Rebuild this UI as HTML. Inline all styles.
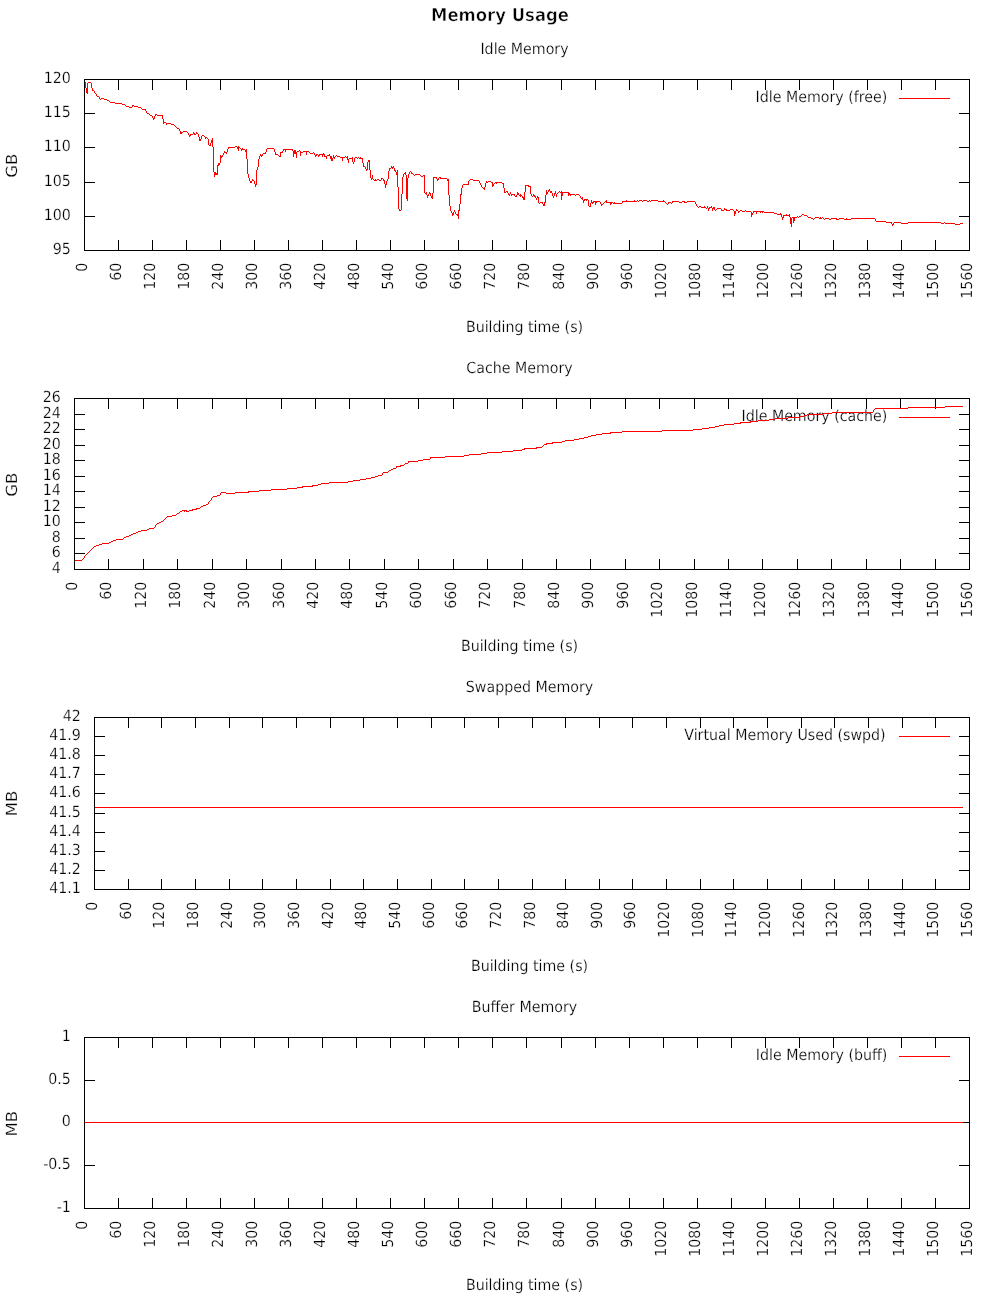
<!DOCTYPE html>
<html><head><meta charset="utf-8"><title>Memory Usage</title>
<style>
html,body{margin:0;padding:0;background:#fff;}
svg{display:block}
text{font-family:"DejaVu Sans", "Liberation Sans", sans-serif;font-size:14.22px;fill:#000;stroke:#fff;stroke-width:.22px}
.b{stroke:#000;stroke-width:1;fill:none;shape-rendering:crispEdges}
.r{stroke:#f00;stroke-width:1;fill:none;shape-rendering:crispEdges;stroke-linejoin:miter}
.t{font-weight:bold;font-size:16.5px;stroke-width:.55px}
</style></head><body>
<svg width="1000" height="1300" viewBox="0 0 1000 1300">
<rect width="1000" height="1300" fill="#fff"/>

<text class="t" transform="translate(500,21) skewX(.05) scale(1,1.078)" text-anchor="middle">Memory Usage</text>
<g>
<text transform="translate(524.5,53.5) skewX(.05) scale(1,1.078)" text-anchor="middle">Idle Memory</text>
<path class="b" d="M84 113.5H95M970 113.5H959M84 147.5H95M970 147.5H959M84 182.5H95M970 182.5H959M84 216.5H95M970 216.5H959M118.5 251V240M118.5 79V90M152.5 251V240M152.5 79V90M186.5 251V240M186.5 79V90M220.5 251V240M220.5 79V90M254.5 251V240M254.5 79V90M288.5 251V240M288.5 79V90M322.5 251V240M322.5 79V90M356.5 251V240M356.5 79V90M390.5 251V240M390.5 79V90M424.5 251V240M424.5 79V90M458.5 251V240M458.5 79V90M492.5 251V240M492.5 79V90M526.5 251V240M526.5 79V90M561.5 251V240M561.5 79V90M595.5 251V240M595.5 79V90M629.5 251V240M629.5 79V90M663.5 251V240M663.5 79V90M697.5 251V240M697.5 79V90M731.5 251V240M731.5 79V90M765.5 251V240M765.5 79V90M799.5 251V240M799.5 79V90M833.5 251V240M833.5 79V90M867.5 251V240M867.5 79V90M901.5 251V240M901.5 79V90M935.5 251V240M935.5 79V90"/>
<text transform="translate(70.9,83.1) skewX(.05) scale(1,1.078)" text-anchor="end">120</text>
<text transform="translate(70.9,117.1) skewX(.05) scale(1,1.078)" text-anchor="end">115</text>
<text transform="translate(70.9,151.1) skewX(.05) scale(1,1.078)" text-anchor="end">110</text>
<text transform="translate(70.9,186.1) skewX(.05) scale(1,1.078)" text-anchor="end">105</text>
<text transform="translate(70.9,220.1) skewX(.05) scale(1,1.078)" text-anchor="end">100</text>
<text transform="translate(70.9,254.1) skewX(.05) scale(1,1.078)" text-anchor="end">95</text>
<text transform="translate(87.3,262.6) rotate(-90) skewX(.05) scale(1,1.078)" text-anchor="end">0</text>
<text transform="translate(121.3,262.6) rotate(-90) skewX(.05) scale(1,1.078)" text-anchor="end">60</text>
<text transform="translate(155.3,262.6) rotate(-90) skewX(.05) scale(1,1.078)" text-anchor="end">120</text>
<text transform="translate(189.3,262.6) rotate(-90) skewX(.05) scale(1,1.078)" text-anchor="end">180</text>
<text transform="translate(223.3,262.6) rotate(-90) skewX(.05) scale(1,1.078)" text-anchor="end">240</text>
<text transform="translate(257.3,262.6) rotate(-90) skewX(.05) scale(1,1.078)" text-anchor="end">300</text>
<text transform="translate(291.3,262.6) rotate(-90) skewX(.05) scale(1,1.078)" text-anchor="end">360</text>
<text transform="translate(325.3,262.6) rotate(-90) skewX(.05) scale(1,1.078)" text-anchor="end">420</text>
<text transform="translate(359.3,262.6) rotate(-90) skewX(.05) scale(1,1.078)" text-anchor="end">480</text>
<text transform="translate(393.3,262.6) rotate(-90) skewX(.05) scale(1,1.078)" text-anchor="end">540</text>
<text transform="translate(427.3,262.6) rotate(-90) skewX(.05) scale(1,1.078)" text-anchor="end">600</text>
<text transform="translate(461.3,262.6) rotate(-90) skewX(.05) scale(1,1.078)" text-anchor="end">660</text>
<text transform="translate(495.3,262.6) rotate(-90) skewX(.05) scale(1,1.078)" text-anchor="end">720</text>
<text transform="translate(529.3,262.6) rotate(-90) skewX(.05) scale(1,1.078)" text-anchor="end">780</text>
<text transform="translate(564.3,262.6) rotate(-90) skewX(.05) scale(1,1.078)" text-anchor="end">840</text>
<text transform="translate(598.3,262.6) rotate(-90) skewX(.05) scale(1,1.078)" text-anchor="end">900</text>
<text transform="translate(632.3,262.6) rotate(-90) skewX(.05) scale(1,1.078)" text-anchor="end">960</text>
<text transform="translate(666.3,262.6) rotate(-90) skewX(.05) scale(1,1.078)" text-anchor="end">1020</text>
<text transform="translate(700.3,262.6) rotate(-90) skewX(.05) scale(1,1.078)" text-anchor="end">1080</text>
<text transform="translate(734.3,262.6) rotate(-90) skewX(.05) scale(1,1.078)" text-anchor="end">1140</text>
<text transform="translate(768.3,262.6) rotate(-90) skewX(.05) scale(1,1.078)" text-anchor="end">1200</text>
<text transform="translate(802.3,262.6) rotate(-90) skewX(.05) scale(1,1.078)" text-anchor="end">1260</text>
<text transform="translate(836.3,262.6) rotate(-90) skewX(.05) scale(1,1.078)" text-anchor="end">1320</text>
<text transform="translate(870.3,262.6) rotate(-90) skewX(.05) scale(1,1.078)" text-anchor="end">1380</text>
<text transform="translate(904.3,262.6) rotate(-90) skewX(.05) scale(1,1.078)" text-anchor="end">1440</text>
<text transform="translate(938.3,262.6) rotate(-90) skewX(.05) scale(1,1.078)" text-anchor="end">1500</text>
<text transform="translate(972.3,262.6) rotate(-90) skewX(.05) scale(1,1.078)" text-anchor="end">1560</text>
<text transform="translate(17.2,165.7) rotate(-90) skewX(.05) scale(1.16,1.078)" text-anchor="middle">GB</text>
<text transform="translate(524.5,331.7) skewX(.05) scale(1,1.078)" text-anchor="middle">Building time (s)</text>
<text transform="translate(887.3,101.7) skewX(.05) scale(1,1.078)" text-anchor="end">Idle Memory (free)</text>
<path class="r" d="M899 98.5H950"/>
<path fill="#f00" d="M88 82h3v1h-3zM101 98h3v1h-3zM104 99h3v1h-3zM110 102h5v1h-5zM115 103h7v1h-7zM122 104h3v1h-3zM126 106h3v1h-3zM134 106h4v1h-4zM129 107h3v1h-3zM138 107h3v1h-3zM142 109h4v1h-4zM157 115h6v1h-6zM163 122h3v1h-3zM166 123h5v1h-5zM171 124h3v1h-3zM183 131h4v1h-4zM180 132h3v1h-3zM190 134h3v1h-3zM228 147h7v1h-7zM237 147h3v1h-3zM267 148h7v1h-7zM241 149h4v1h-4zM283 149h10v1h-10zM293 151h3v1h-3zM303 151h6v1h-6zM224 152h3v1h-3zM280 152h3v1h-3zM293 152h4v1h-4zM300 152h3v1h-3zM263 153h3v1h-3zM293 153h4v1h-4zM310 153h3v1h-3zM275 154h3v1h-3zM319 154h6v1h-6zM260 155h3v1h-3zM327 155h3v1h-3zM220 156h3v1h-3zM324 156h3v1h-3zM337 156h3v1h-3zM340 157h5v1h-5zM330 158h3v1h-3zM349 158h4v1h-4zM359 158h4v1h-4zM391 167h3v1h-3zM214 173h4v1h-4zM214 174h4v1h-4zM415 174h5v1h-5zM433 177h4v1h-4zM440 178h7v1h-7zM470 179h3v1h-3zM374 180h3v1h-3zM473 180h6v1h-6zM488 181h3v1h-3zM495 182h7v1h-7zM463 184h6v1h-6zM525 185h4v1h-4zM528 186h3v1h-3zM560 192h9v1h-9zM511 194h4v1h-4zM568 194h7v1h-7zM576 194h3v1h-3zM519 195h3v1h-3zM522 197h3v1h-3zM584 199h4v1h-4zM639 200h3v1h-3zM643 200h4v1h-4zM651 200h7v1h-7zM593 201h7v1h-7zM622 201h15v1h-15zM658 201h7v1h-7zM672 201h7v1h-7zM682 201h3v1h-3zM687 201h8v1h-8zM540 202h3v1h-3zM591 202h3v1h-3zM606 202h7v1h-7zM668 202h3v1h-3zM679 202h3v1h-3zM684 202h3v1h-3zM613 203h9v1h-9zM701 207h5v1h-5zM709 207h3v1h-3zM712 208h3v1h-3zM717 208h4v1h-4zM724 209h3v1h-3zM730 209h3v1h-3zM721 210h3v1h-3zM726 210h4v1h-4zM742 211h3v1h-3zM746 211h5v1h-5zM753 211h11v1h-11zM764 212h10v1h-10zM774 213h3v1h-3zM456 214h3v1h-3zM777 214h5v1h-5zM783 215h7v1h-7zM804 215h3v1h-3zM792 217h5v1h-5zM808 217h3v1h-3zM815 217h4v1h-4zM819 218h3v1h-3zM825 218h4v1h-4zM831 218h6v1h-6zM839 218h5v1h-5zM851 218h24v1h-24zM836 219h3v1h-3zM844 219h7v1h-7zM876 221h10v1h-10zM886 222h6v1h-6zM894 222h7v1h-7zM908 222h33v1h-33zM901 223h7v1h-7zM941 223h3v1h-3zM945 223h10v1h-10zM960 223h3v1h-3zM955 224h5v1h-5zM85 82h1v6h-1zM86 88h1v5h-1zM87 83h1v11h-1zM91 83h1v5h-1zM92 88h1v3h-1zM93 90h1v1h-1zM94 91h1v2h-1zM95 93h1v1h-1zM96 94h1v2h-1zM97 96h1v1h-1zM98 96h1v1h-1zM99 97h1v2h-1zM100 99h1v1h-1zM107 100h1v1h-1zM108 100h1v1h-1zM109 101h1v1h-1zM125 105h1v1h-1zM132 105h1v2h-1zM133 105h1v1h-1zM141 108h1v1h-1zM145 110h1v1h-1zM146 111h1v2h-1zM147 113h1v1h-1zM148 113h1v1h-1zM149 114h1v1h-1zM150 115h1v1h-1zM151 115h1v1h-1zM152 116h1v2h-1zM153 118h1v2h-1zM154 116h1v3h-1zM155 114h1v2h-1zM156 114h1v1h-1zM162 116h1v3h-1zM163 119h1v3h-1zM163 123h1v1h-1zM166 124h1v1h-1zM174 125h1v1h-1zM175 126h1v1h-1zM176 127h1v1h-1zM177 128h1v1h-1zM178 128h1v1h-1zM179 129h1v2h-1zM180 131h1v1h-1zM180 133h1v1h-1zM181 133h1v1h-1zM187 132h1v1h-1zM188 133h1v2h-1zM189 135h1v2h-1zM190 135h1v1h-1zM193 132h1v2h-1zM194 133h1v2h-1zM195 134h1v1h-1zM196 132h1v2h-1zM197 133h1v1h-1zM198 134h1v3h-1zM199 137h1v4h-1zM200 139h1v2h-1zM201 136h1v3h-1zM202 135h1v1h-1zM203 135h1v1h-1zM204 136h1v1h-1zM205 137h1v2h-1zM206 137h1v1h-1zM207 138h1v1h-1zM208 139h1v6h-1zM209 145h1v1h-1zM210 143h1v3h-1zM211 140h1v3h-1zM212 138h1v9h-1zM213 147h1v25h-1zM214 172h1v1h-1zM214 175h1v2h-1zM215 172h1v1h-1zM217 165h1v8h-1zM218 163h1v3h-1zM219 163h1v2h-1zM220 155h1v1h-1zM220 157h1v6h-1zM221 157h1v1h-1zM222 155h1v1h-1zM223 153h1v2h-1zM224 151h1v1h-1zM226 153h1v1h-1zM227 149h1v3h-1zM228 148h1v1h-1zM235 146h1v1h-1zM236 146h1v1h-1zM237 148h1v1h-1zM238 146h1v1h-1zM238 148h1v3h-1zM240 148h1v1h-1zM241 150h1v1h-1zM242 148h1v1h-1zM245 150h1v2h-1zM246 149h1v10h-1zM247 159h1v15h-1zM248 174h1v4h-1zM249 178h1v3h-1zM250 181h1v2h-1zM251 181h1v2h-1zM252 179h1v2h-1zM253 180h1v1h-1zM254 181h1v3h-1zM255 184h1v3h-1zM256 170h1v15h-1zM257 167h1v3h-1zM258 159h1v8h-1zM259 156h1v3h-1zM260 154h1v1h-1zM261 156h1v1h-1zM262 154h1v1h-1zM265 152h1v1h-1zM266 149h1v3h-1zM274 149h1v3h-1zM275 152h1v2h-1zM278 155h1v1h-1zM279 156h1v1h-1zM280 153h1v4h-1zM282 151h1v1h-1zM283 150h1v1h-1zM285 150h1v2h-1zM292 150h1v1h-1zM293 154h1v3h-1zM294 150h1v1h-1zM295 150h1v1h-1zM296 154h1v4h-1zM297 151h1v1h-1zM298 151h1v1h-1zM299 150h1v1h-1zM300 151h1v1h-1zM300 153h1v3h-1zM306 152h1v3h-1zM309 152h1v1h-1zM313 152h1v1h-1zM314 153h1v2h-1zM315 155h1v2h-1zM316 154h1v2h-1zM317 154h1v1h-1zM318 155h1v2h-1zM319 155h1v1h-1zM322 155h1v2h-1zM323 153h1v1h-1zM324 155h1v1h-1zM326 157h1v2h-1zM329 154h1v1h-1zM330 156h1v2h-1zM331 156h1v2h-1zM331 159h1v2h-1zM332 159h1v2h-1zM333 155h1v3h-1zM334 157h1v2h-1zM335 156h1v1h-1zM336 155h1v1h-1zM342 158h1v3h-1zM345 156h1v1h-1zM346 157h1v1h-1zM347 156h1v4h-1zM348 159h1v4h-1zM352 157h1v1h-1zM352 159h1v3h-1zM353 162h1v2h-1zM354 158h1v4h-1zM355 157h1v1h-1zM356 157h1v1h-1zM357 158h1v1h-1zM358 157h1v1h-1zM360 157h1v1h-1zM362 159h1v4h-1zM363 163h1v4h-1zM364 166h1v1h-1zM365 167h1v2h-1zM366 169h1v2h-1zM367 162h1v8h-1zM368 160h1v2h-1zM369 160h1v10h-1zM370 170h1v8h-1zM371 178h1v2h-1zM372 175h1v4h-1zM373 179h1v1h-1zM375 179h1v1h-1zM377 179h1v1h-1zM378 179h1v1h-1zM379 180h1v1h-1zM380 180h1v1h-1zM381 178h1v2h-1zM382 178h1v1h-1zM383 179h1v2h-1zM384 180h1v4h-1zM385 184h1v4h-1zM386 181h1v4h-1zM387 179h1v2h-1zM388 171h1v8h-1zM389 168h1v3h-1zM390 168h1v1h-1zM391 166h1v1h-1zM392 168h1v1h-1zM393 166h1v1h-1zM394 168h1v3h-1zM395 170h1v2h-1zM396 172h1v3h-1zM397 170h1v17h-1zM398 187h1v22h-1zM399 209h1v2h-1zM400 210h1v1h-1zM401 194h1v16h-1zM402 177h1v17h-1zM403 174h1v3h-1zM404 173h1v1h-1zM405 172h1v3h-1zM406 175h1v24h-1zM407 178h1v23h-1zM408 174h1v4h-1zM409 172h1v2h-1zM410 171h1v1h-1zM411 172h1v2h-1zM412 173h1v1h-1zM413 174h1v1h-1zM414 175h1v1h-1zM420 175h1v1h-1zM421 176h1v1h-1zM422 176h1v1h-1zM423 175h1v1h-1zM424 175h1v18h-1zM425 193h1v1h-1zM426 192h1v3h-1zM427 195h1v3h-1zM428 194h1v2h-1zM429 192h1v2h-1zM430 193h1v3h-1zM431 196h1v2h-1zM432 193h1v6h-1zM433 178h1v15h-1zM436 178h1v1h-1zM437 179h1v2h-1zM438 178h1v2h-1zM439 177h1v1h-1zM440 177h1v1h-1zM447 179h1v2h-1zM448 179h1v16h-1zM449 195h1v11h-1zM450 206h1v5h-1zM451 211h1v2h-1zM452 213h1v3h-1zM453 212h1v3h-1zM454 210h1v2h-1zM455 212h1v2h-1zM457 215h1v1h-1zM458 210h1v4h-1zM458 215h1v4h-1zM459 204h1v7h-1zM460 194h1v10h-1zM461 188h1v7h-1zM462 185h1v3h-1zM468 181h1v3h-1zM469 180h1v1h-1zM479 181h1v2h-1zM480 183h1v2h-1zM481 185h1v2h-1zM482 187h1v1h-1zM483 188h1v1h-1zM484 187h1v3h-1zM485 183h1v4h-1zM486 181h1v2h-1zM487 182h1v1h-1zM491 182h1v1h-1zM492 182h1v5h-1zM493 184h1v2h-1zM494 183h1v1h-1zM496 183h1v1h-1zM502 183h1v1h-1zM503 183h1v5h-1zM504 188h1v5h-1zM505 192h1v1h-1zM506 191h1v1h-1zM507 191h1v2h-1zM508 193h1v2h-1zM509 194h1v2h-1zM510 192h1v2h-1zM511 195h1v1h-1zM514 195h1v1h-1zM515 196h1v1h-1zM516 195h1v2h-1zM517 192h1v3h-1zM518 193h1v2h-1zM520 194h1v1h-1zM520 196h1v1h-1zM522 196h1v1h-1zM523 198h1v2h-1zM524 192h1v5h-1zM524 198h1v2h-1zM525 186h1v6h-1zM530 187h1v7h-1zM531 194h1v2h-1zM532 196h1v1h-1zM533 194h1v2h-1zM534 195h1v2h-1zM535 196h1v2h-1zM536 198h1v2h-1zM537 196h1v2h-1zM538 197h1v6h-1zM539 203h1v1h-1zM542 203h1v1h-1zM543 204h1v2h-1zM544 202h1v4h-1zM545 195h1v8h-1zM546 190h1v5h-1zM547 192h1v2h-1zM548 190h1v2h-1zM549 189h1v2h-1zM550 191h1v2h-1zM551 191h1v2h-1zM552 193h1v3h-1zM553 196h1v2h-1zM554 193h1v3h-1zM555 191h1v3h-1zM556 194h1v3h-1zM557 193h1v1h-1zM558 192h1v1h-1zM559 191h1v1h-1zM561 191h1v1h-1zM561 193h1v7h-1zM562 193h1v3h-1zM568 193h1v1h-1zM568 195h1v1h-1zM569 193h1v1h-1zM570 195h1v1h-1zM575 195h1v1h-1zM579 195h1v1h-1zM580 196h1v2h-1zM581 198h1v1h-1zM582 197h1v3h-1zM583 200h1v3h-1zM584 200h1v1h-1zM586 200h1v1h-1zM588 200h1v6h-1zM589 206h1v1h-1zM590 203h1v4h-1zM591 200h1v2h-1zM592 203h1v1h-1zM595 202h1v3h-1zM596 202h1v1h-1zM600 202h1v2h-1zM601 204h1v2h-1zM602 204h1v1h-1zM603 203h1v1h-1zM604 202h1v1h-1zM605 201h1v1h-1zM606 200h1v2h-1zM610 203h1v2h-1zM611 203h1v1h-1zM614 202h1v1h-1zM622 202h1v1h-1zM626 200h1v1h-1zM634 200h1v1h-1zM637 200h1v1h-1zM638 201h1v1h-1zM642 201h1v1h-1zM647 201h1v1h-1zM648 201h1v1h-1zM649 200h1v1h-1zM650 201h1v1h-1zM663 200h1v1h-1zM665 202h1v1h-1zM666 203h1v1h-1zM667 204h1v1h-1zM668 203h1v1h-1zM671 203h1v1h-1zM672 202h1v1h-1zM695 202h1v2h-1zM696 204h1v2h-1zM697 206h1v1h-1zM698 207h1v1h-1zM699 206h1v1h-1zM700 206h1v1h-1zM704 206h1v1h-1zM706 208h1v1h-1zM707 206h1v2h-1zM708 208h1v3h-1zM709 208h1v1h-1zM711 206h1v1h-1zM712 209h1v2h-1zM713 207h1v1h-1zM714 207h1v1h-1zM714 209h1v1h-1zM715 210h1v1h-1zM716 209h1v1h-1zM721 209h1v1h-1zM724 208h1v1h-1zM733 210h1v1h-1zM734 211h1v5h-1zM735 211h1v3h-1zM736 209h1v2h-1zM737 210h1v1h-1zM738 211h1v2h-1zM739 211h1v1h-1zM740 210h1v1h-1zM741 210h1v1h-1zM745 210h1v1h-1zM751 212h1v5h-1zM752 213h1v2h-1zM753 212h1v1h-1zM756 212h1v2h-1zM760 212h1v1h-1zM762 212h1v1h-1zM780 213h1v1h-1zM781 215h1v2h-1zM782 217h1v3h-1zM783 216h1v2h-1zM786 214h1v1h-1zM789 214h1v1h-1zM789 216h1v1h-1zM790 217h1v7h-1zM791 218h1v9h-1zM793 218h1v5h-1zM794 218h1v3h-1zM797 216h1v1h-1zM798 217h1v1h-1zM799 216h1v1h-1zM800 216h1v1h-1zM801 215h1v1h-1zM802 214h1v1h-1zM803 214h1v1h-1zM807 216h1v1h-1zM811 218h1v1h-1zM812 218h1v1h-1zM813 219h1v1h-1zM814 218h1v1h-1zM820 217h1v1h-1zM822 217h1v1h-1zM823 218h1v1h-1zM824 219h1v1h-1zM829 219h1v1h-1zM830 219h1v1h-1zM846 218h1v1h-1zM875 219h1v2h-1zM891 223h1v1h-1zM892 224h1v2h-1zM893 223h1v2h-1zM944 222h1v1h-1z"/>
<path class="b" d="M84 79.5H970M84 250.5H970M84.5 79V251M969.5 79V251"/>
</g>
<g>
<text transform="translate(519.5,372.5) skewX(.05) scale(1,1.078)" text-anchor="middle">Cache Memory</text>
<path class="b" d="M74 414.5H85M970 414.5H959M74 429.5H85M970 429.5H959M74 445.5H85M970 445.5H959M74 460.5H85M970 460.5H959M74 476.5H85M970 476.5H959M74 491.5H85M970 491.5H959M74 507.5H85M970 507.5H959M74 522.5H85M970 522.5H959M74 538.5H85M970 538.5H959M74 553.5H85M970 553.5H959M108.5 570V559M108.5 398V409M143.5 570V559M143.5 398V409M177.5 570V559M177.5 398V409M212.5 570V559M212.5 398V409M246.5 570V559M246.5 398V409M281.5 570V559M281.5 398V409M315.5 570V559M315.5 398V409M349.5 570V559M349.5 398V409M384.5 570V559M384.5 398V409M418.5 570V559M418.5 398V409M453.5 570V559M453.5 398V409M487.5 570V559M487.5 398V409M522.5 570V559M522.5 398V409M556.5 570V559M556.5 398V409M590.5 570V559M590.5 398V409M625.5 570V559M625.5 398V409M659.5 570V559M659.5 398V409M694.5 570V559M694.5 398V409M728.5 570V559M728.5 398V409M762.5 570V559M762.5 398V409M797.5 570V559M797.5 398V409M831.5 570V559M831.5 398V409M866.5 570V559M866.5 398V409M900.5 570V559M900.5 398V409M935.5 570V559M935.5 398V409"/>
<text transform="translate(60.9,402.1) skewX(.05) scale(1,1.078)" text-anchor="end">26</text>
<text transform="translate(60.9,418.1) skewX(.05) scale(1,1.078)" text-anchor="end">24</text>
<text transform="translate(60.9,433.1) skewX(.05) scale(1,1.078)" text-anchor="end">22</text>
<text transform="translate(60.9,449.1) skewX(.05) scale(1,1.078)" text-anchor="end">20</text>
<text transform="translate(60.9,464.1) skewX(.05) scale(1,1.078)" text-anchor="end">18</text>
<text transform="translate(60.9,480.1) skewX(.05) scale(1,1.078)" text-anchor="end">16</text>
<text transform="translate(60.9,495.1) skewX(.05) scale(1,1.078)" text-anchor="end">14</text>
<text transform="translate(60.9,511.1) skewX(.05) scale(1,1.078)" text-anchor="end">12</text>
<text transform="translate(60.9,526.1) skewX(.05) scale(1,1.078)" text-anchor="end">10</text>
<text transform="translate(60.9,542.1) skewX(.05) scale(1,1.078)" text-anchor="end">8</text>
<text transform="translate(60.9,557.1) skewX(.05) scale(1,1.078)" text-anchor="end">6</text>
<text transform="translate(60.9,573.1) skewX(.05) scale(1,1.078)" text-anchor="end">4</text>
<text transform="translate(77.3,581.6) rotate(-90) skewX(.05) scale(1,1.078)" text-anchor="end">0</text>
<text transform="translate(111.3,581.6) rotate(-90) skewX(.05) scale(1,1.078)" text-anchor="end">60</text>
<text transform="translate(146.3,581.6) rotate(-90) skewX(.05) scale(1,1.078)" text-anchor="end">120</text>
<text transform="translate(180.3,581.6) rotate(-90) skewX(.05) scale(1,1.078)" text-anchor="end">180</text>
<text transform="translate(215.3,581.6) rotate(-90) skewX(.05) scale(1,1.078)" text-anchor="end">240</text>
<text transform="translate(249.3,581.6) rotate(-90) skewX(.05) scale(1,1.078)" text-anchor="end">300</text>
<text transform="translate(284.3,581.6) rotate(-90) skewX(.05) scale(1,1.078)" text-anchor="end">360</text>
<text transform="translate(318.3,581.6) rotate(-90) skewX(.05) scale(1,1.078)" text-anchor="end">420</text>
<text transform="translate(352.3,581.6) rotate(-90) skewX(.05) scale(1,1.078)" text-anchor="end">480</text>
<text transform="translate(387.3,581.6) rotate(-90) skewX(.05) scale(1,1.078)" text-anchor="end">540</text>
<text transform="translate(421.3,581.6) rotate(-90) skewX(.05) scale(1,1.078)" text-anchor="end">600</text>
<text transform="translate(456.3,581.6) rotate(-90) skewX(.05) scale(1,1.078)" text-anchor="end">660</text>
<text transform="translate(490.3,581.6) rotate(-90) skewX(.05) scale(1,1.078)" text-anchor="end">720</text>
<text transform="translate(525.3,581.6) rotate(-90) skewX(.05) scale(1,1.078)" text-anchor="end">780</text>
<text transform="translate(559.3,581.6) rotate(-90) skewX(.05) scale(1,1.078)" text-anchor="end">840</text>
<text transform="translate(593.3,581.6) rotate(-90) skewX(.05) scale(1,1.078)" text-anchor="end">900</text>
<text transform="translate(628.3,581.6) rotate(-90) skewX(.05) scale(1,1.078)" text-anchor="end">960</text>
<text transform="translate(662.3,581.6) rotate(-90) skewX(.05) scale(1,1.078)" text-anchor="end">1020</text>
<text transform="translate(697.3,581.6) rotate(-90) skewX(.05) scale(1,1.078)" text-anchor="end">1080</text>
<text transform="translate(731.3,581.6) rotate(-90) skewX(.05) scale(1,1.078)" text-anchor="end">1140</text>
<text transform="translate(765.3,581.6) rotate(-90) skewX(.05) scale(1,1.078)" text-anchor="end">1200</text>
<text transform="translate(800.3,581.6) rotate(-90) skewX(.05) scale(1,1.078)" text-anchor="end">1260</text>
<text transform="translate(834.3,581.6) rotate(-90) skewX(.05) scale(1,1.078)" text-anchor="end">1320</text>
<text transform="translate(869.3,581.6) rotate(-90) skewX(.05) scale(1,1.078)" text-anchor="end">1380</text>
<text transform="translate(903.3,581.6) rotate(-90) skewX(.05) scale(1,1.078)" text-anchor="end">1440</text>
<text transform="translate(938.3,581.6) rotate(-90) skewX(.05) scale(1,1.078)" text-anchor="end">1500</text>
<text transform="translate(972.3,581.6) rotate(-90) skewX(.05) scale(1,1.078)" text-anchor="end">1560</text>
<text transform="translate(17.2,484.7) rotate(-90) skewX(.05) scale(1.16,1.078)" text-anchor="middle">GB</text>
<text transform="translate(519.5,650.7) skewX(.05) scale(1,1.078)" text-anchor="middle">Building time (s)</text>
<text transform="translate(887.3,420.7) skewX(.05) scale(1,1.078)" text-anchor="end">Idle Memory (cache)</text>
<path class="r" d="M899 417.5H950"/>
<path fill="#f00" d="M945 406h18v1h-18zM908 407h37v1h-37zM875 408h33v1h-33zM832 412h41v1h-41zM823 413h9v1h-9zM807 414h16v1h-16zM804 415h3v1h-3zM800 416h4v1h-4zM788 417h12v1h-12zM775 418h13v1h-13zM769 419h6v1h-6zM758 420h11v1h-11zM750 421h8v1h-8zM740 422h11v1h-11zM734 423h7v1h-7zM724 424h10v1h-10zM719 425h5v1h-5zM715 426h4v1h-4zM709 427h6v1h-6zM702 428h7v1h-7zM693 429h9v1h-9zM662 430h31v1h-31zM622 431h40v1h-40zM610 432h12v1h-12zM602 433h9v1h-9zM596 434h6v1h-6zM591 435h5v1h-5zM588 436h3v1h-3zM584 437h4v1h-4zM579 438h5v1h-5zM574 439h5v1h-5zM565 440h9v1h-9zM562 441h3v1h-3zM552 442h10v1h-10zM546 443h7v1h-7zM544 444h3v1h-3zM536 447h6v1h-6zM524 448h13v1h-13zM522 449h3v1h-3zM513 450h9v1h-9zM502 451h11v1h-11zM487 452h15v1h-15zM481 453h6v1h-6zM469 454h12v1h-12zM464 455h5v1h-5zM445 456h19v1h-19zM430 457h15v1h-15zM423 459h7v1h-7zM418 460h5v1h-5zM408 461h10v1h-10zM405 463h3v1h-3zM400 465h4v1h-4zM396 466h5v1h-5zM393 468h3v1h-3zM383 472h5v1h-5zM378 475h4v1h-4zM375 476h3v1h-3zM371 477h4v1h-4zM366 478h5v1h-5zM360 479h6v1h-6zM353 480h7v1h-7zM348 481h5v1h-5zM329 482h19v1h-19zM321 483h8v1h-8zM318 484h3v1h-3zM312 485h6v1h-6zM302 486h11v1h-11zM297 487h6v1h-6zM287 488h10v1h-10zM271 489h16v1h-16zM259 490h12v1h-12zM248 491h11v1h-11zM221 492h5v1h-5zM235 492h14v1h-14zM226 493h9v1h-9zM217 495h3v1h-3zM213 496h4v1h-4zM203 505h3v1h-3zM196 508h4v1h-4zM192 509h5v1h-5zM182 510h5v1h-5zM189 510h4v1h-4zM186 511h3v1h-3zM172 515h4v1h-4zM167 516h5v1h-5zM149 528h5v1h-5zM141 530h6v1h-6zM138 531h3v1h-3zM133 533h3v1h-3zM126 536h3v1h-3zM116 539h7v1h-7zM113 540h3v1h-3zM102 543h7v1h-7zM99 544h3v1h-3zM96 545h3v1h-3zM75 560h7v1h-7zM82 559h1v1h-1zM83 558h1v1h-1zM84 556h1v2h-1zM85 555h1v1h-1zM86 554h1v1h-1zM87 553h1v1h-1zM88 552h1v1h-1zM89 551h1v1h-1zM90 550h1v1h-1zM91 549h1v1h-1zM92 548h1v1h-1zM93 547h1v1h-1zM94 546h1v1h-1zM95 546h1v1h-1zM109 542h1v1h-1zM110 542h1v1h-1zM111 541h1v1h-1zM112 541h1v1h-1zM123 538h1v1h-1zM124 537h1v1h-1zM125 537h1v1h-1zM129 535h1v1h-1zM130 535h1v1h-1zM131 534h1v1h-1zM132 534h1v1h-1zM136 532h1v1h-1zM137 532h1v1h-1zM147 529h1v1h-1zM148 529h1v1h-1zM154 527h1v1h-1zM155 525h1v2h-1zM156 524h1v1h-1zM157 523h1v1h-1zM158 523h1v1h-1zM159 522h1v1h-1zM160 522h1v1h-1zM161 521h1v1h-1zM162 521h1v1h-1zM163 520h1v1h-1zM164 519h1v1h-1zM165 518h1v1h-1zM166 517h1v1h-1zM176 514h1v1h-1zM177 513h1v1h-1zM178 513h1v1h-1zM179 512h1v1h-1zM180 511h1v1h-1zM181 511h1v1h-1zM184 511h1v1h-1zM200 507h1v1h-1zM201 506h1v1h-1zM202 506h1v1h-1zM206 504h1v1h-1zM207 504h1v1h-1zM208 502h1v2h-1zM209 501h1v1h-1zM210 500h1v1h-1zM211 498h1v2h-1zM212 497h1v1h-1zM220 493h1v2h-1zM382 473h1v2h-1zM388 471h1v1h-1zM389 470h1v1h-1zM390 470h1v1h-1zM391 469h1v1h-1zM392 469h1v1h-1zM396 467h1v1h-1zM404 464h1v1h-1zM408 462h1v1h-1zM430 458h1v1h-1zM542 446h1v1h-1zM543 445h1v1h-1zM873 410h1v2h-1zM874 409h1v1h-1z"/>
<path class="b" d="M74 398.5H970M74 569.5H970M74.5 398V570M969.5 398V570"/>
</g>
<g>
<text transform="translate(529.5,691.5) skewX(.05) scale(1,1.078)" text-anchor="middle">Swapped Memory</text>
<path class="b" d="M94 736.5H105M970 736.5H959M94 755.5H105M970 755.5H959M94 774.5H105M970 774.5H959M94 793.5H105M970 793.5H959M94 813.5H105M970 813.5H959M94 832.5H105M970 832.5H959M94 851.5H105M970 851.5H959M94 870.5H105M970 870.5H959M128.5 890V879M128.5 717V728M161.5 890V879M161.5 717V728M195.5 890V879M195.5 717V728M229.5 890V879M229.5 717V728M262.5 890V879M262.5 717V728M296.5 890V879M296.5 717V728M330.5 890V879M330.5 717V728M363.5 890V879M363.5 717V728M397.5 890V879M397.5 717V728M431.5 890V879M431.5 717V728M464.5 890V879M464.5 717V728M498.5 890V879M498.5 717V728M532.5 890V879M532.5 717V728M565.5 890V879M565.5 717V728M599.5 890V879M599.5 717V728M632.5 890V879M632.5 717V728M666.5 890V879M666.5 717V728M700.5 890V879M700.5 717V728M733.5 890V879M733.5 717V728M767.5 890V879M767.5 717V728M801.5 890V879M801.5 717V728M834.5 890V879M834.5 717V728M868.5 890V879M868.5 717V728M902.5 890V879M902.5 717V728M935.5 890V879M935.5 717V728"/>
<text transform="translate(80.9,721.1) skewX(.05) scale(1,1.078)" text-anchor="end">42</text>
<text transform="translate(80.9,740.1) skewX(.05) scale(1,1.078)" text-anchor="end">41.9</text>
<text transform="translate(80.9,759.1) skewX(.05) scale(1,1.078)" text-anchor="end">41.8</text>
<text transform="translate(80.9,778.1) skewX(.05) scale(1,1.078)" text-anchor="end">41.7</text>
<text transform="translate(80.9,797.1) skewX(.05) scale(1,1.078)" text-anchor="end">41.6</text>
<text transform="translate(80.9,817.1) skewX(.05) scale(1,1.078)" text-anchor="end">41.5</text>
<text transform="translate(80.9,836.1) skewX(.05) scale(1,1.078)" text-anchor="end">41.4</text>
<text transform="translate(80.9,855.1) skewX(.05) scale(1,1.078)" text-anchor="end">41.3</text>
<text transform="translate(80.9,874.1) skewX(.05) scale(1,1.078)" text-anchor="end">41.2</text>
<text transform="translate(80.9,893.1) skewX(.05) scale(1,1.078)" text-anchor="end">41.1</text>
<text transform="translate(97.3,901.6) rotate(-90) skewX(.05) scale(1,1.078)" text-anchor="end">0</text>
<text transform="translate(131.3,901.6) rotate(-90) skewX(.05) scale(1,1.078)" text-anchor="end">60</text>
<text transform="translate(164.3,901.6) rotate(-90) skewX(.05) scale(1,1.078)" text-anchor="end">120</text>
<text transform="translate(198.3,901.6) rotate(-90) skewX(.05) scale(1,1.078)" text-anchor="end">180</text>
<text transform="translate(232.3,901.6) rotate(-90) skewX(.05) scale(1,1.078)" text-anchor="end">240</text>
<text transform="translate(265.3,901.6) rotate(-90) skewX(.05) scale(1,1.078)" text-anchor="end">300</text>
<text transform="translate(299.3,901.6) rotate(-90) skewX(.05) scale(1,1.078)" text-anchor="end">360</text>
<text transform="translate(333.3,901.6) rotate(-90) skewX(.05) scale(1,1.078)" text-anchor="end">420</text>
<text transform="translate(366.3,901.6) rotate(-90) skewX(.05) scale(1,1.078)" text-anchor="end">480</text>
<text transform="translate(400.3,901.6) rotate(-90) skewX(.05) scale(1,1.078)" text-anchor="end">540</text>
<text transform="translate(434.3,901.6) rotate(-90) skewX(.05) scale(1,1.078)" text-anchor="end">600</text>
<text transform="translate(467.3,901.6) rotate(-90) skewX(.05) scale(1,1.078)" text-anchor="end">660</text>
<text transform="translate(501.3,901.6) rotate(-90) skewX(.05) scale(1,1.078)" text-anchor="end">720</text>
<text transform="translate(535.3,901.6) rotate(-90) skewX(.05) scale(1,1.078)" text-anchor="end">780</text>
<text transform="translate(568.3,901.6) rotate(-90) skewX(.05) scale(1,1.078)" text-anchor="end">840</text>
<text transform="translate(602.3,901.6) rotate(-90) skewX(.05) scale(1,1.078)" text-anchor="end">900</text>
<text transform="translate(635.3,901.6) rotate(-90) skewX(.05) scale(1,1.078)" text-anchor="end">960</text>
<text transform="translate(669.3,901.6) rotate(-90) skewX(.05) scale(1,1.078)" text-anchor="end">1020</text>
<text transform="translate(703.3,901.6) rotate(-90) skewX(.05) scale(1,1.078)" text-anchor="end">1080</text>
<text transform="translate(736.3,901.6) rotate(-90) skewX(.05) scale(1,1.078)" text-anchor="end">1140</text>
<text transform="translate(770.3,901.6) rotate(-90) skewX(.05) scale(1,1.078)" text-anchor="end">1200</text>
<text transform="translate(804.3,901.6) rotate(-90) skewX(.05) scale(1,1.078)" text-anchor="end">1260</text>
<text transform="translate(837.3,901.6) rotate(-90) skewX(.05) scale(1,1.078)" text-anchor="end">1320</text>
<text transform="translate(871.3,901.6) rotate(-90) skewX(.05) scale(1,1.078)" text-anchor="end">1380</text>
<text transform="translate(905.3,901.6) rotate(-90) skewX(.05) scale(1,1.078)" text-anchor="end">1440</text>
<text transform="translate(938.3,901.6) rotate(-90) skewX(.05) scale(1,1.078)" text-anchor="end">1500</text>
<text transform="translate(972.3,901.6) rotate(-90) skewX(.05) scale(1,1.078)" text-anchor="end">1560</text>
<text transform="translate(17.2,803.4) rotate(-90) skewX(.05) scale(1.16,1.078)" text-anchor="middle">MB</text>
<text transform="translate(529.5,970.7) skewX(.05) scale(1,1.078)" text-anchor="middle">Building time (s)</text>
<text transform="translate(885.5999999999999,739.7) skewX(.05) scale(1,1.078)" text-anchor="end">Virtual Memory Used (swpd)</text>
<path class="r" d="M899 736.5H950"/>
<path fill="#f00" d="M95 807h868v1h-868z"/>
<path class="b" d="M94 717.5H970M94 889.5H970M94.5 717V890M969.5 717V890"/>
</g>
<g>
<text transform="translate(524.5,1011.5) skewX(.05) scale(1,1.078)" text-anchor="middle">Buffer Memory</text>
<path class="b" d="M84 1080.5H95M970 1080.5H959M84 1122.5H95M970 1122.5H959M84 1165.5H95M970 1165.5H959M118.5 1209V1198M118.5 1037V1048M152.5 1209V1198M152.5 1037V1048M186.5 1209V1198M186.5 1037V1048M220.5 1209V1198M220.5 1037V1048M254.5 1209V1198M254.5 1037V1048M288.5 1209V1198M288.5 1037V1048M322.5 1209V1198M322.5 1037V1048M356.5 1209V1198M356.5 1037V1048M390.5 1209V1198M390.5 1037V1048M424.5 1209V1198M424.5 1037V1048M458.5 1209V1198M458.5 1037V1048M492.5 1209V1198M492.5 1037V1048M526.5 1209V1198M526.5 1037V1048M561.5 1209V1198M561.5 1037V1048M595.5 1209V1198M595.5 1037V1048M629.5 1209V1198M629.5 1037V1048M663.5 1209V1198M663.5 1037V1048M697.5 1209V1198M697.5 1037V1048M731.5 1209V1198M731.5 1037V1048M765.5 1209V1198M765.5 1037V1048M799.5 1209V1198M799.5 1037V1048M833.5 1209V1198M833.5 1037V1048M867.5 1209V1198M867.5 1037V1048M901.5 1209V1198M901.5 1037V1048M935.5 1209V1198M935.5 1037V1048"/>
<text transform="translate(70.9,1041.1) skewX(.05) scale(1,1.078)" text-anchor="end">1</text>
<text transform="translate(70.9,1084.1) skewX(.05) scale(1,1.078)" text-anchor="end">0.5</text>
<text transform="translate(70.9,1126.1) skewX(.05) scale(1,1.078)" text-anchor="end">0</text>
<text transform="translate(70.9,1169.1) skewX(.05) scale(1,1.078)" text-anchor="end">-0.5</text>
<text transform="translate(70.9,1212.1) skewX(.05) scale(1,1.078)" text-anchor="end">-1</text>
<text transform="translate(87.3,1220.6) rotate(-90) skewX(.05) scale(1,1.078)" text-anchor="end">0</text>
<text transform="translate(121.3,1220.6) rotate(-90) skewX(.05) scale(1,1.078)" text-anchor="end">60</text>
<text transform="translate(155.3,1220.6) rotate(-90) skewX(.05) scale(1,1.078)" text-anchor="end">120</text>
<text transform="translate(189.3,1220.6) rotate(-90) skewX(.05) scale(1,1.078)" text-anchor="end">180</text>
<text transform="translate(223.3,1220.6) rotate(-90) skewX(.05) scale(1,1.078)" text-anchor="end">240</text>
<text transform="translate(257.3,1220.6) rotate(-90) skewX(.05) scale(1,1.078)" text-anchor="end">300</text>
<text transform="translate(291.3,1220.6) rotate(-90) skewX(.05) scale(1,1.078)" text-anchor="end">360</text>
<text transform="translate(325.3,1220.6) rotate(-90) skewX(.05) scale(1,1.078)" text-anchor="end">420</text>
<text transform="translate(359.3,1220.6) rotate(-90) skewX(.05) scale(1,1.078)" text-anchor="end">480</text>
<text transform="translate(393.3,1220.6) rotate(-90) skewX(.05) scale(1,1.078)" text-anchor="end">540</text>
<text transform="translate(427.3,1220.6) rotate(-90) skewX(.05) scale(1,1.078)" text-anchor="end">600</text>
<text transform="translate(461.3,1220.6) rotate(-90) skewX(.05) scale(1,1.078)" text-anchor="end">660</text>
<text transform="translate(495.3,1220.6) rotate(-90) skewX(.05) scale(1,1.078)" text-anchor="end">720</text>
<text transform="translate(529.3,1220.6) rotate(-90) skewX(.05) scale(1,1.078)" text-anchor="end">780</text>
<text transform="translate(564.3,1220.6) rotate(-90) skewX(.05) scale(1,1.078)" text-anchor="end">840</text>
<text transform="translate(598.3,1220.6) rotate(-90) skewX(.05) scale(1,1.078)" text-anchor="end">900</text>
<text transform="translate(632.3,1220.6) rotate(-90) skewX(.05) scale(1,1.078)" text-anchor="end">960</text>
<text transform="translate(666.3,1220.6) rotate(-90) skewX(.05) scale(1,1.078)" text-anchor="end">1020</text>
<text transform="translate(700.3,1220.6) rotate(-90) skewX(.05) scale(1,1.078)" text-anchor="end">1080</text>
<text transform="translate(734.3,1220.6) rotate(-90) skewX(.05) scale(1,1.078)" text-anchor="end">1140</text>
<text transform="translate(768.3,1220.6) rotate(-90) skewX(.05) scale(1,1.078)" text-anchor="end">1200</text>
<text transform="translate(802.3,1220.6) rotate(-90) skewX(.05) scale(1,1.078)" text-anchor="end">1260</text>
<text transform="translate(836.3,1220.6) rotate(-90) skewX(.05) scale(1,1.078)" text-anchor="end">1320</text>
<text transform="translate(870.3,1220.6) rotate(-90) skewX(.05) scale(1,1.078)" text-anchor="end">1380</text>
<text transform="translate(904.3,1220.6) rotate(-90) skewX(.05) scale(1,1.078)" text-anchor="end">1440</text>
<text transform="translate(938.3,1220.6) rotate(-90) skewX(.05) scale(1,1.078)" text-anchor="end">1500</text>
<text transform="translate(972.3,1220.6) rotate(-90) skewX(.05) scale(1,1.078)" text-anchor="end">1560</text>
<text transform="translate(17.2,1123.7) rotate(-90) skewX(.05) scale(1.16,1.078)" text-anchor="middle">MB</text>
<text transform="translate(524.5,1289.7) skewX(.05) scale(1,1.078)" text-anchor="middle">Building time (s)</text>
<text transform="translate(887.3,1059.7) skewX(.05) scale(1,1.078)" text-anchor="end">Idle Memory (buff)</text>
<path class="r" d="M899 1056.5H950"/>
<path fill="#f00" d="M85 1122h878v1h-878z"/>
<path class="b" d="M84 1037.5H970M84 1208.5H970M84.5 1037V1209M969.5 1037V1209"/>
</g>
</svg></body></html>
